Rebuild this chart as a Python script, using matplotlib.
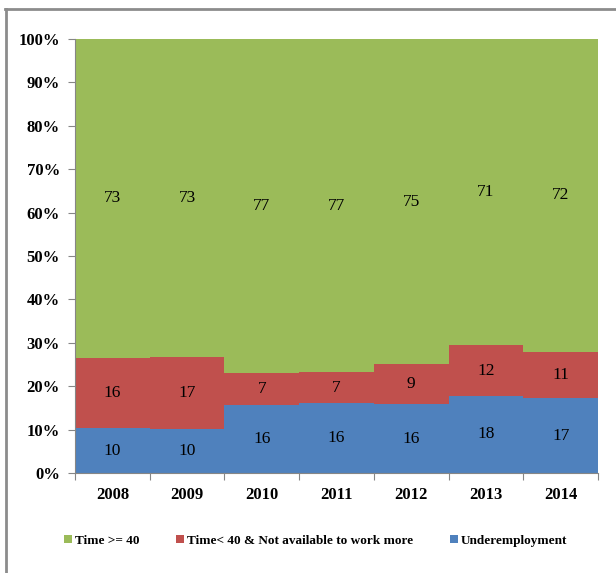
import matplotlib
matplotlib.use("Agg")
from matplotlib import pyplot as plt
from matplotlib.lines import Line2D

years = ["2008", "2009", "2010", "2011", "2012", "2013", "2014"]
underemployment = [10.3, 10.1, 15.6, 16.1, 15.8, 17.8, 17.2]
time_lt40 = [16.3, 16.6, 7.4, 7.1, 9.3, 11.6, 10.7]
time_ge40 = [73.4, 73.3, 77.0, 76.8, 74.9, 70.6, 72.1]

series = [
    ("Underemployment", underemployment, "#4F81BD"),
    ("Time< 40 & Not available to work more", time_lt40, "#C0504D"),
    ("Time >= 40", time_ge40, "#9BBB59"),
]

serif = ["Liberation Serif", "DejaVu Serif"]

fig = plt.figure(figsize=(6.16, 5.73), dpi=100)
ax = fig.add_axes([0.1218, 0.1745, 0.849, 0.7574])

x = range(len(years))
bottom = [0.0] * len(years)
for name, vals, color in series:
    ax.bar(x, vals, width=1.0, bottom=bottom, color=color, linewidth=0)
    for i, v in enumerate(vals):
        ax.text(i, bottom[i] + v / 2, "%.0f" % v, ha="center", va="center",
                fontsize=12.5, family=serif)
    bottom = [b + v for b, v in zip(bottom, vals)]

ax.set_xlim(-0.5, len(years) - 0.5)
ax.set_ylim(0, 100)
ax.set_yticks(range(0, 101, 10))
ax.set_yticklabels(["%d%%" % t for t in range(0, 101, 10)], family=serif,
                   fontsize=12, fontweight="bold")
ax.set_xticks([i - 0.5 for i in range(len(years) + 1)])
ax.set_xticklabels([])
ax.set_xticks(list(x), minor=True)
ax.set_xticklabels(years, minor=True, family=serif, fontsize=12, fontweight="bold")
ax.tick_params(axis="x", which="minor", length=0, pad=10)
ax.tick_params(axis="x", which="major", length=5, color="#868686")
ax.tick_params(axis="y", length=5, color="#868686", pad=6)
for s in ("top", "right"):
    ax.spines[s].set_visible(False)
for s in ("left", "bottom"):
    ax.spines[s].set_color("#868686")

# legend, in the order shown on the chart
legend_items = [series[2], series[1], series[0]]
proxies = [Line2D([], [], marker="s", linestyle="none", markersize=6,
                  markerfacecolor=c, markeredgewidth=0) for _, _, c in legend_items]
fig.legend(proxies, [n for n, _, _ in legend_items], loc="center",
           bbox_to_anchor=(0.51, 0.056), ncol=3, frameon=False,
           prop={"family": serif, "size": 9.5, "weight": "bold"},
           handletextpad=0.0, columnspacing=2.6, handlelength=1.0)

# outer chart border (left and top edges)
fig.add_artist(Line2D([0.009, 0.009], [0, 0.985], transform=fig.transFigure,
                      color="#8c8c8c", linewidth=2))
fig.add_artist(Line2D([0.008, 1.0], [0.984, 0.984], transform=fig.transFigure,
                      color="#8c8c8c", linewidth=2))

fig.savefig("out.png", dpi=100)
